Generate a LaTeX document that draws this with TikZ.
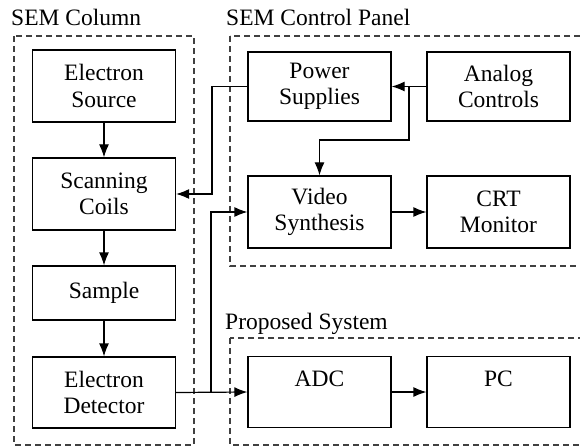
\documentclass[tikz,border=0pt]{standalone}
\usepackage{fontspec}
\setmainfont{Liberation Serif}
\usetikzlibrary{positioning, arrows.meta}

\tikzset{
    block/.style={draw, line width=1.2pt, minimum width=143pt, align=center,
        font=\fontsize{23.5}{26.5}\selectfont, inner sep=0pt},
    group/.style={draw=black!75, line width=1.3pt, dash pattern=on 6pt off 4pt},
    grouplabel/.style={anchor=base west, inner sep=0pt, font=\fontsize{23.5}{27}\selectfont},
    link/.style={->, line width=1.2pt}
}

\begin{document}
\begin{tikzpicture}[x=1pt, y=-1pt, >={Latex[length=13pt,width=10pt]}]
    \useasboundingbox (0,0) rectangle (580,446);
    % groups
    \draw[group] (14,36) rectangle (194,445);
    \draw[group] (230,36) rectangle (590,266);
    \draw[group] (230,338) rectangle (590,445);
    \node[grouplabel] (colname) at (11,26) {SEM Column};
    \node[grouplabel] (panelname) at (226,26) {SEM Control Panel};
    \node[grouplabel] (propname) at (225,329) {Proposed System};
    % SEM column
    \node[block, minimum height=72pt] (es) at (104,86) {Electron\\Source};
    \node[block, minimum height=72pt] (sc) at (104,194) {Scanning\\Coils};
    \node[block, minimum height=54pt] (sa) at (104,293) {Sample};
    \node[block, minimum height=71pt] (ed) at (104,392.5) {Electron\\Detector};
    % control panel
    \node[block, minimum height=69pt] (ps) at (319.5,86.5) {Power\\Supplies};
    \node[block, minimum height=69pt] (ac) at (498.5,86.5) {Analog\\Controls};
    \node[block, minimum height=72pt] (vs) at (319.5,212) {Video\\Synthesis};
    \node[block, minimum height=72pt] (crt) at (498.5,212) {CRT\\Monitor};
    % proposed system
    \node[block, minimum height=71pt] (adc) at (319.5,392) {ADC\\~};
    \node[block, minimum height=71pt] (pc) at (498.5,392) {PC\\~};
    % bends
    \coordinate (psbend) at (212,86.5);
    \coordinate (acjoin) at (409,86.5);
    \coordinate (acbend) at (409,140);
    \coordinate (edjoin) at (211,392);

    \draw[link] (es) -- (sc);
    \draw[link] (sc) -- (sa);
    \draw[link] (sa) -- (ed);
    \draw[link] (ps.west) -- (psbend) |- (sc.east);
    \draw[link] (ac.west) -- (ps.east);
    \draw[link] (acjoin) -- (acbend) -| (vs.north);
    \draw[link] (vs) -- (crt);
    \draw[link] (ed.east) -- (adc.west);
    \draw[link] (edjoin) |- (vs.west);
    \draw[link] (adc) -- (pc);
\end{tikzpicture}
\end{document}
